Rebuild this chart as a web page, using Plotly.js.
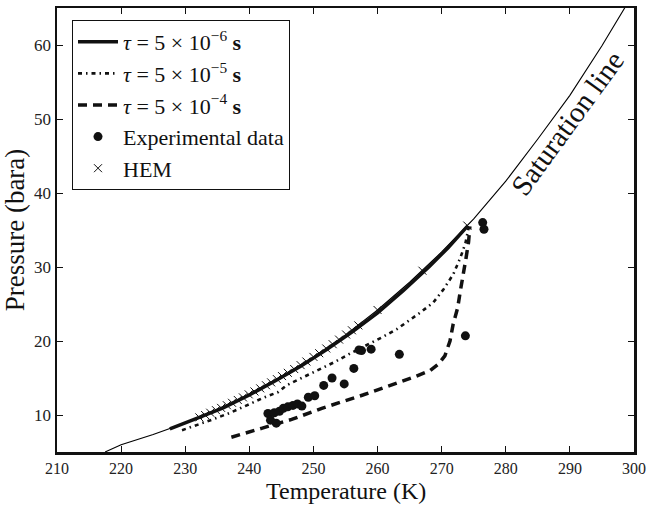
<!DOCTYPE html>
<html>
<head>
<meta charset="utf-8">
<script src="https://cdn.plot.ly/plotly-3.0.1.min.js"></script>
<style>html,body{margin:0;padding:0;background:#fff;}#chart{width:651px;height:505px;}</style>
</head>
<body>
<div id="chart"></div>
<script>
// Saturation line (temperature K, pressure bara)
const satT = [217.5, 220, 225, 230, 235, 240, 245, 250, 255, 260, 265, 270, 275, 280, 285, 290, 295, 300];
const satP = [5.0, 5.99, 7.36, 8.93, 10.73, 12.83, 15.21, 17.85, 20.83, 24.19, 27.94, 32.03, 36.49, 41.6, 47.3, 53.2, 59.9, 67.1];

// tau = 5e-6 s
const t6T = [227.6, 230, 232, 236, 240, 244, 248, 252, 256, 260, 264, 268, 271, 274.1];
const t6P = [8.13, 8.9, 9.6, 11.0, 12.7, 14.6, 16.6, 18.8, 21.2, 23.8, 26.8, 30.0, 32.6, 35.6];

// tau = 5e-5 s
const t5T = [229.5, 230.8, 232.0, 234.6, 237.0, 239.6, 242.1, 244.5, 245.8, 248.4, 251.0, 253.4, 255.7, 258.3, 260.7, 263.0, 264.0, 266.6, 268.7, 270.3, 271.8, 272.9, 273.7, 274.2];
const t5P = [7.95, 8.3, 8.7, 9.5, 10.3, 11.3, 12.3, 13.1, 14.0, 15.1, 16.2, 17.2, 18.3, 19.4, 20.5, 21.6, 22.2, 23.8, 25.2, 27.0, 29.0, 31.2, 33.2, 35.3];

// tau = 5e-4 s
const t4T = [237.2, 239.8, 241.9, 246.6, 251.3, 257.7, 262.0, 265.6, 268.2, 269.5, 270.5, 271.3, 271.8, 272.5, 272.9, 273.4, 273.8, 274.2, 274.4];
const t4P = [7.0, 7.6, 8.2, 9.4, 10.9, 12.7, 14.0, 15.1, 16.0, 16.9, 18.0, 20.0, 22.3, 24.5, 26.7, 29.0, 31.2, 33.4, 35.5];

// Experimental data
const expT = [242.9, 243.3, 244.2, 243.9, 244.7, 245.3, 246.0, 246.8, 247.5, 248.2, 249.2, 250.2, 251.6, 252.9, 254.8, 256.3, 257.1, 257.5, 259.0, 263.4, 273.7, 276.4, 276.6];
const expP = [10.2, 9.3, 8.9, 10.3, 10.5, 10.9, 11.1, 11.3, 11.5, 11.2, 12.4, 12.6, 14.0, 15.0, 14.2, 16.3, 18.8, 18.7, 18.9, 18.2, 20.7, 36.0, 35.1];

// HEM
const hemT = [232.2, 233.1, 233.9, 234.8, 235.6, 236.5, 237.3, 238.2, 239.0, 239.9, 240.8, 241.7, 242.6, 243.4, 244.3, 245.1, 246.0, 247.0, 248.0, 248.9, 250.0, 250.9, 252.0, 253.0, 254.0, 255.1, 256.0, 257.0, 260.0, 267.0, 274.0];
const hemP = [9.68, 10.0, 10.31, 10.65, 10.96, 11.32, 11.65, 12.03, 12.38, 12.79, 13.18, 13.6, 14.02, 14.41, 14.85, 15.26, 15.7, 16.21, 16.74, 17.23, 17.85, 18.35, 18.99, 19.57, 20.19, 20.88, 21.45, 22.11, 24.19, 29.5, 35.6];

const xTicks = [210, 220, 230, 240, 250, 260, 270, 280, 290, 300];
const yTicks = [10, 20, 30, 40, 50, 60];

const labels = {
  t6: '<i>τ</i> = 5 × 10<sup>−6</sup> <b>s</b>',
  t5: '<i>τ</i> = 5 × 10<sup>−5</sup> <b>s</b>',
  t4: '<i>τ</i> = 5 × 10<sup>−4</sup> <b>s</b>',
  exp: 'Experimental data',
  hem: 'HEM',
  sat: 'Saturation line',
  x: 'Temperature (K)',
  y: 'Pressure (bara)'
};

const FONT = 'Liberation Serif, Times New Roman, serif';
const MB = 53, MT = 8, H = 505;

const traces = [
  {x: satT, y: satP, mode: 'lines', line: {color: '#000', width: 1.1}, showlegend: false, hoverinfo: 'skip'},
  {x: t6T, y: t6P, mode: 'lines', name: labels.t6, line: {color: '#111', width: 3.5}, legendrank: 1},
  {x: t5T, y: t5P, mode: 'lines', name: labels.t5, line: {color: '#111', width: 2.6, dash: '4px,4px,1.5px,4px'}, legendrank: 2},
  {x: t4T, y: t4P, mode: 'lines', name: labels.t4, line: {color: '#111', width: 3.5, dash: '9px,6px'}, legendrank: 3},
  {x: expT, y: expP, mode: 'markers', name: labels.exp, marker: {symbol: 'circle', size: 9, color: '#111'}, legendrank: 4},
  {x: hemT, y: hemP, mode: 'markers', name: labels.hem, marker: {symbol: 'x-thin', size: 8, color: '#111', line: {color: '#111', width: 1}}, legendrank: 5}
];

const layout = {
  width: 651, height: H,
  margin: {l: 57, r: 17, t: MT, b: MB},
  paper_bgcolor: '#fff', plot_bgcolor: '#fff',
  font: {family: FONT, color: '#111'},
  xaxis: {
    range: [210, 300], tickvals: xTicks, ticktext: xTicks.map(String),
    showgrid: false, zeroline: false, showline: true, linecolor: '#111', linewidth: 2.5, mirror: 'ticks',
    ticks: 'inside', ticklen: 6, tickwidth: 1, tickcolor: '#111',
    tickfont: {family: FONT, size: 16, color: '#222'}, automargin: false
  },
  yaxis: {
    range: [5, 65], tickvals: yTicks, ticktext: yTicks.map(String),
    showgrid: false, zeroline: false, showline: true, linecolor: '#111', linewidth: 2.5, mirror: 'ticks',
    ticks: 'inside', ticklen: 6, tickwidth: 1, tickcolor: '#111',
    tickfont: {family: FONT, size: 17, color: '#222'}, automargin: false,
    title: {text: labels.y, font: {family: FONT, size: 27, color: '#111'}, standoff: 4}
  },
  legend: {
    x: 0.026, y: 0.973, xanchor: 'left', yanchor: 'top',
    bgcolor: '#fff', bordercolor: '#111', borderwidth: 1,
    font: {family: FONT, size: 22, color: '#111'},
    traceorder: 'normal', itemwidth: 40, tracegroupgap: 0
  },
  annotations: [{
    x: 289.6, y: 49.5, xref: 'x', yref: 'y', text: labels.sat, showarrow: false,
    textangle: -54, font: {family: FONT, size: 29, color: '#111'}
  }, {
    x: 0.5, y: -MB / (H - MB - MT), xref: 'paper', yref: 'paper', xanchor: 'center', yanchor: 'bottom',
    borderpad: 0, text: labels.x, showarrow: false, font: {family: FONT, size: 24, color: '#111'}
  }]
};

Plotly.newPlot('chart', traces, layout, {displayModeBar: false, staticPlot: true});
</script>
</body>
</html>
